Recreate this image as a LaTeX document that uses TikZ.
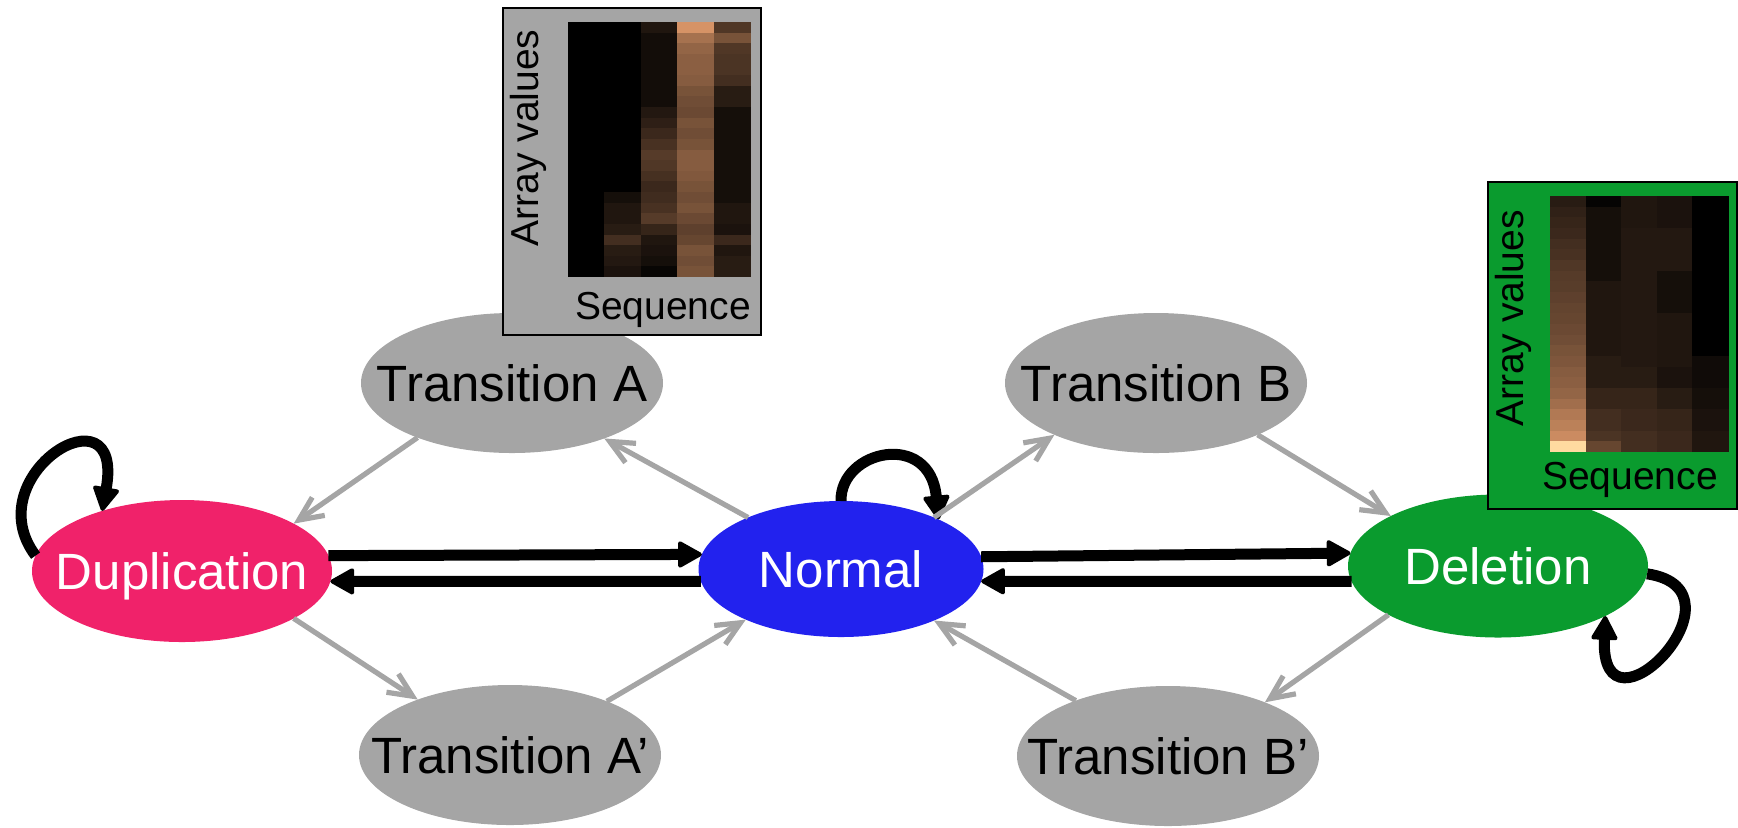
\documentclass[tikz,border=0pt]{standalone}
\usepackage{fontspec}
\setmainfont{Liberation Sans}
\usetikzlibrary{arrows.meta,shapes.geometric}

\definecolor{dupcol}{HTML}{F0226A}
\definecolor{normcol}{HTML}{2222EE}
\definecolor{delcol}{HTML}{0A9B2E}
\definecolor{graycol}{HTML}{A5A5A5}

% copper-like colour scale for a heat-map value #1 in [0,1]
\newcommand\setcellcolor[1]{%
  \pgfmathsetmacro\cR{min(1,1.05*#1)}%
  \pgfmathsetmacro\cG{0.72*#1+0.9*max(0,#1-0.85)}%
  \pgfmathsetmacro\cB{0.5*#1+0.85*max(0,#1-0.85)}%
  \definecolor{cellc}{rgb}{\cR,\cG,\cB}}

\begin{document}
\begin{tikzpicture}[x=0.5pt,y=-0.5pt,
  lbl/.style={font=\fontsize{25.5}{30}\selectfont, text height=18.3pt, text depth=0pt},
  state/.style={ellipse, draw=none, inner sep=0pt, outer sep=0pt, lbl,
    minimum width=150pt, minimum height=71pt, text=white},
  trans/.style={state, fill=graycol, text=black, minimum width=151pt, minimum height=70pt},
  mainarrow/.style={line width=5.5pt, draw=black,
    -{Triangle[length=13pt,width=14pt,line width=2pt,round]}},
  sidearrow/.style={line width=2.6pt, draw=graycol,
    -{Straight Barb[length=12pt,width=11pt]}},
  inset/.style={rectangle, draw=black, line width=0.75pt, inner sep=0pt, outer sep=0pt,
    minimum width=#1},
  axislbl/.style={font=\fontsize{19.5}{22}\selectfont, inner sep=0pt}
]
\useasboundingbox (0,0) rectangle (1738,827);

% states
\node[state, fill=dupcol]  (dup)  at (182,571)  {\makebox[0pt]{Duplication}};
\node[state, fill=normcol, minimum width=142.5pt, minimum height=68pt] (norm) at (841,569) {\makebox[0pt]{Normal}};
\node[state, fill=delcol, minimum height=71.5pt]  (del)  at (1498,566) {\makebox[0pt]{Deletion}};

% transition states
\node[trans] (ta)  at (512,383)  {\makebox[0pt]{Transition A}};
\node[trans] (tb)  at (1156,383) {\makebox[0pt]{Transition B}};
\node[trans] (ta2) at (510,755)  {\makebox[0pt]{Transition A’}};
\node[trans] (tb2) at (1168,756) {\makebox[0pt]{Transition B’}};

% direct transitions between the main states
\draw[mainarrow] (dup.6.25)    -- (norm.174.25);
\draw[mainarrow] (norm.185.75) -- (dup.-4.64);
\draw[mainarrow] (norm.5.75)   -- (del.175.76);
\draw[mainarrow] (del.186.66)  -- (norm.-5.75);

% self loops
\draw[mainarrow] (dup.174) .. controls (-25,475) and (125,383) .. (dup.143.1);
\draw[mainarrow] (norm.90) .. controls (840,450) and (930,430) .. (norm.27.3);
\draw[mainarrow] (del.-3.8) .. controls (1755,590) and (1600,750) .. (del.-25.5);

% routes through the transition states
\draw[sidearrow] (ta.210)    -- (dup.23.8);
\draw[sidearrow] (norm.151)  -- (ta.-31.8);
\draw[sidearrow] (dup.-23.9) -- (ta2.149.5);
\draw[sidearrow] (ta2.29.6)  -- (norm.208);
\draw[sidearrow] (norm.29)   -- (tb.207.5);
\draw[sidearrow] (tb.-27)    -- (del.155.8);
\draw[sidearrow] (del.204)   -- (tb2.29.7);
\draw[sidearrow] (tb2.149)   -- (norm.-29);

% inset: duplication profile
\node[inset=129pt, minimum height=163.5pt, fill=graycol] (insa) at (632,171.5) {};
\foreach \vals [count=\c] in {
  {0,0,0,0,0,0,0,0,0,0,0,0,0,0,0,0,0,0,0,0,0,0,0,0},
  {0,0,0,0,0,0,0,0,0,0,0,0,0,0,0,0,0.08,0.12,0.12,0.15,0.25,0.15,0.13,0.1},
  {0.12,0.07,0.07,0.07,0.07,0.07,0.07,0.07,0.13,0.17,0.22,0.27,0.32,0.3,0.26,0.22,0.24,0.27,0.32,0.2,0.12,0.1,0.08,0.03},
  {0.8,0.62,0.55,0.52,0.52,0.5,0.45,0.42,0.4,0.45,0.42,0.45,0.5,0.5,0.48,0.45,0.42,0.45,0.4,0.35,0.38,0.45,0.42,0.45},
  {0.3,0.45,0.3,0.28,0.28,0.25,0.15,0.15,0.08,0.08,0.08,0.08,0.08,0.08,0.08,0.08,0.08,0.12,0.12,0.1,0.22,0.12,0.15,0.15}} {
  \foreach \v [count=\r] in \vals {
    \setcellcolor{\v}
    \fill[cellc] ({568+(\c-1)*36.4},{22+(\r-1)*10.625}) rectangle ++(36.9,11.1);
  }
}
\node[axislbl, rotate=90] (insaY) at (528,138) {Array values};
\node[axislbl] (insaX) at (663,310) {Sequence};

% inset: deletion profile
\node[inset=124.5pt, minimum height=163.5pt, fill=delcol] (insb) at (1612.5,345.5) {};
\foreach \vals [count=\c] in {
  {0.15,0.18,0.2,0.22,0.25,0.27,0.3,0.32,0.33,0.35,0.37,0.38,0.4,0.42,0.45,0.47,0.5,0.52,0.55,0.6,0.66,0.7,0.76,1.0},
  {0.02,0.08,0.08,0.08,0.08,0.08,0.08,0.08,0.12,0.12,0.12,0.12,0.12,0.12,0.12,0.15,0.15,0.15,0.2,0.2,0.25,0.25,0.28,0.38},
  {0.12,0.12,0.12,0.13,0.13,0.13,0.13,0.13,0.13,0.13,0.13,0.13,0.13,0.13,0.13,0.13,0.15,0.15,0.2,0.2,0.22,0.22,0.25,0.25},
  {0.1,0.1,0.1,0.13,0.13,0.13,0.13,0.08,0.08,0.08,0.08,0.12,0.12,0.12,0.12,0.12,0.1,0.1,0.15,0.15,0.2,0.2,0.22,0.22},
  {0,0,0,0,0,0,0,0,0,0,0,0,0,0,0,0.06,0.06,0.06,0.08,0.08,0.1,0.1,0.12,0.12}} {
  \foreach \v [count=\r] in \vals {
    \setcellcolor{\v}
    \fill[cellc] ({1550+(\c-1)*35.6},{196+(\r-1)*10.667}) rectangle ++(36.1,11.1);
  }
}
\node[axislbl, rotate=90] (insbY) at (1513,318.5) {Array values};
\node[axislbl] (insbX) at (1630,480) {Sequence};
\end{tikzpicture}
\end{document}
